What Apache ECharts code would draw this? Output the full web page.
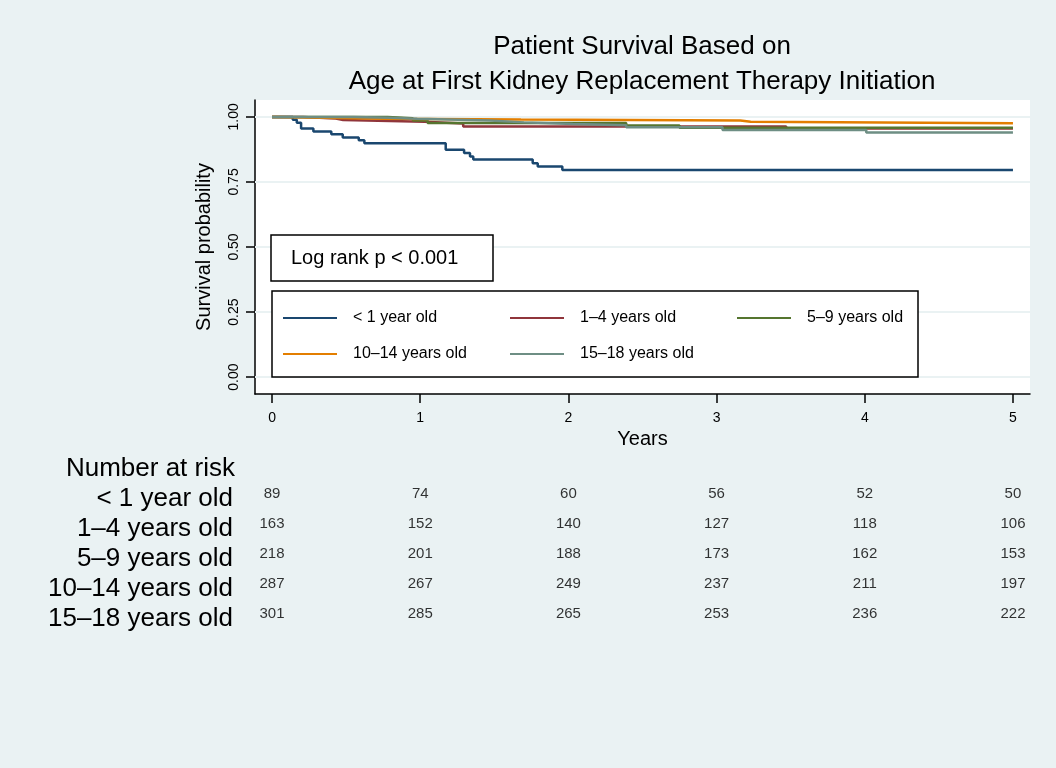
<!DOCTYPE html>
<html>
<head>
<meta charset="utf-8">
<script src="https://cdn.jsdelivr.net/npm/echarts@6/dist/echarts.min.js"></script>
<style>
  html, body { margin: 0; padding: 0; background: #eaf2f3; }
  #chart { width: 1056px; height: 768px; }
</style>
</head>
<body>
<div id="chart"></div>
<script>
// Kaplan–Meier survival by age group at first kidney replacement therapy
const groups = ['< 1 year old', '1–4 years old', '5–9 years old', '10–14 years old', '15–18 years old'];
const colors = ['#1a476f', '#90353b', '#55752f', '#e37e00', '#6e8e84'];

// [years, survival probability after the step]
const survUnder1 = [[0,1],[0.14,0.989],[0.167,0.978],[0.196,0.955],[0.279,0.944],[0.40,0.933],[0.477,0.921],[0.585,0.910],[0.623,0.899],[1.172,0.874],[1.296,0.861],[1.336,0.848],[1.358,0.836],[1.759,0.822],[1.793,0.809],[1.959,0.796],[5,0.796]];
const surv1to4 = [[0,1],[0.21,0.994],[0.43,0.988],[0.48,0.981],[1.03,0.975],[1.29,0.963],[3.47,0.955],[5,0.955]];
const surv5to9 = [[0,1],[0.78,0.995],[0.95,0.986],[1.05,0.977],[2.39,0.967],[2.75,0.958],[5,0.958]];
const surv10to14 = [[0,1],[0.03,0.993],[0.75,0.990],[1.68,0.986],[3.16,0.981],[3.23,0.976],[5,0.976]];
const surv15to18 = [[0,1],[0.55,0.997],[0.80,0.993],[0.98,0.986],[1.47,0.979],[1.70,0.973],[2.03,0.968],[2.39,0.960],[3.04,0.950],[4.01,0.940],[5,0.940]];

// Number at risk at each year
const riskYears = [0, 1, 2, 3, 4, 5];
const riskUnder1 = [89, 74, 60, 56, 52, 50];
const risk1to4 = [163, 152, 140, 127, 118, 106];
const risk5to9 = [218, 201, 188, 173, 162, 153];
const risk10to14 = [287, 267, 249, 237, 211, 197];
const risk15to18 = [301, 285, 265, 253, 236, 222];

const yTicks = [0, 0.25, 0.5, 0.75, 1];
const xTicks = [0, 1, 2, 3, 4, 5];

const curves = [survUnder1, surv1to4, surv5to9, surv10to14, surv15to18];
const risks = [riskUnder1, risk1to4, risk5to9, risk10to14, risk15to18];

const FONT = '"Liberation Sans", Arial, Helvetica, sans-serif';

const chart = echarts.init(document.getElementById('chart'), null, { renderer: 'canvas' });

const lineSeries = groups.map((name, i) => ({
  type: 'line',
  name: name,
  xAxisIndex: 0,
  yAxisIndex: 0,
  step: 'end',
  data: curves[i],
  showSymbol: false,
  symbol: 'none',
  color: colors[i],
  lineStyle: { width: 2.5, color: colors[i] },
  z: 3 + i,
  animation: false
}));

// horizontal grid lines
lineSeries[0].markLine = {
  silent: true,
  symbol: 'none',
  z: 1,
  label: { show: false },
  lineStyle: { color: '#eaf2f3', width: 2, type: 'solid' },
  data: yTicks.map(v => ({ yAxis: v }))
};

const riskData = [];
groups.forEach((g, gi) => {
  riskYears.forEach((t, ti) => riskData.push([t, g, risks[gi][ti]]));
});

const legendCommon = {
  orient: 'horizontal',
  icon: 'rect',
  itemWidth: 54,
  itemHeight: 2,
  itemGap: 11,
  selectedMode: false,
  z: 60,
  textStyle: { fontSize: 16, color: '#000', fontFamily: FONT, padding: [0, 0, 0, 11], width: 146, lineHeight: 18 }
};

chart.setOption({
  backgroundColor: '#eaf2f3',
  animation: false,
  textStyle: { fontFamily: FONT },
  grid: [
    { left: 255, top: 100, width: 775, height: 294, show: true, backgroundColor: '#ffffff', borderWidth: 0, containLabel: false, outerBoundsMode: 'none' },
    { left: 255, top: 484, width: 775, height: 150, show: false, containLabel: false, outerBoundsMode: 'none' }
  ],
  xAxis: [
    {
      type: 'value', gridIndex: 0, min: -0.115, max: 5.115,
      name: 'Years', nameLocation: 'middle', nameGap: 35,
      nameTextStyle: { fontSize: 20, color: '#000', fontFamily: FONT },
      axisLine: { onZero: false, lineStyle: { color: '#000', width: 1.5 } },
      axisTick: { show: true, length: 9, customValues: xTicks, lineStyle: { color: '#000', width: 1.5 } },
      axisLabel: { customValues: xTicks, fontSize: 14, color: '#000', margin: 17, fontFamily: FONT },
      splitLine: { show: false }
    },
    {
      type: 'value', gridIndex: 1, min: -0.115, max: 5.115, show: false
    }
  ],
  yAxis: [
    {
      type: 'value', gridIndex: 0, min: -0.065, max: 1.065,
      name: 'Survival probability', nameLocation: 'middle', nameGap: 41, nameRotate: 90,
      nameTextStyle: { fontSize: 20, color: '#000', fontFamily: FONT },
      axisLine: { show: true, onZero: false, lineStyle: { color: '#000', width: 1.5 } },
      axisTick: { show: true, length: 9, customValues: yTicks, lineStyle: { color: '#000', width: 1.5 } },
      axisLabel: { customValues: yTicks, rotate: 90, fontSize: 14, color: '#000', margin: 14, fontFamily: FONT, formatter: v => v.toFixed(2) },
      splitLine: { show: false }
    },
    {
      type: 'category', gridIndex: 1, data: groups, inverse: true,
      axisLine: { show: false }, axisTick: { show: false }, splitLine: { show: false },
      axisLabel: { interval: 0, hideOverlap: false, fontSize: 26, color: '#000', margin: 22, fontFamily: FONT }
    }
  ],
  legend: [
    Object.assign({}, legendCommon, { data: groups.slice(0, 3), left: 278, top: 304 }),
    Object.assign({}, legendCommon, { data: groups.slice(3), left: 278, top: 340 })
  ],
  series: lineSeries.concat([{
    type: 'scatter',
    name: 'Number at risk',
    xAxisIndex: 1,
    yAxisIndex: 1,
    data: riskData,
    symbolSize: 0,
    silent: true,
    label: {
      show: true, position: 'inside', offset: [0, -5],
      fontSize: 15, color: '#000', fontFamily: FONT,
      formatter: p => String(p.value[2])
    }
  }]),
  graphic: [
    { type: 'text', z: 50, style: { text: 'Patient Survival Based on', x: 642, y: 47, align: 'center', verticalAlign: 'middle', font: '26px ' + FONT, fill: '#000' } },
    { type: 'text', z: 50, style: { text: 'Age at First Kidney Replacement Therapy Initiation', x: 642, y: 82, align: 'center', verticalAlign: 'middle', font: '26px ' + FONT, fill: '#000' } },
    { type: 'rect', z: 50, shape: { x: 271, y: 235, width: 222, height: 46 }, style: { fill: '#fff', stroke: '#000', lineWidth: 1.5 } },
    { type: 'text', z: 51, style: { text: 'Log rank p < 0.001', x: 291, y: 258, align: 'left', verticalAlign: 'middle', font: '20px ' + FONT, fill: '#000' } },
    { type: 'rect', z: 50, shape: { x: 272, y: 291, width: 646, height: 86 }, style: { fill: '#fff', stroke: '#000', lineWidth: 1.5 } },
    { type: 'text', z: 50, style: { text: 'Number at risk', x: 235, y: 469, align: 'right', verticalAlign: 'middle', font: '26px ' + FONT, fill: '#000' } }
  ]
});
</script>
</body>
</html>
